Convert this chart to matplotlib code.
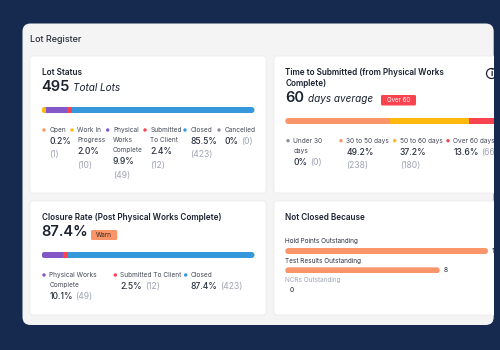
import matplotlib
matplotlib.use("Agg")
import matplotlib.pyplot as plt
from matplotlib.patches import FancyBboxPatch, Rectangle, Circle

plt.rcParams['font.family'] = ['Inter', 'DejaVu Sans']

# Data
status_labels = [["Open"], ["Work In", "Progress"], ["Physical", "Works", "Complete"],
                 ["Submitted", "To Client"], ["Closed"], ["Cancelled"]]
status_pct = [0.2, 2.0, 9.9, 2.4, 85.5, 0]
status_count = [1, 10, 49, 12, 423, 0]
total_lots = 495

time_labels = [["Under 30", "days"], ["30 to 50 days"], ["50 to 60 days"], ["Over 60 days"]]
time_pct = [0, 49.2, 37.2, 13.6]
time_count = [0, 238, 180, 66]
avg_days = 60

closure_labels = [["Physical Works", "Complete"], ["Submitted To Client"], ["Closed"]]
closure_pct = [10.1, 2.5, 87.4]
closure_count = [49, 12, 423]
closure_rate = 87.4

reason_labels = ["Hold Points Outstanding", "Test Results Outstanding", "NCRs Outstanding"]
reason_values = [10.5, 8, 0]
reason_text = ["11", "8", "0"]

# Colours
NAVY = "#162a50"
PANEL = "#f4f4f4"
SALMON = "#fa9469"
YELLOW = "#fdb90e"
PURPLE = "#8357c5"
RED = "#f9434f"
BLUE = "#3498db"
GREY = "#8e8e9a"
DARK = "#1b2230"
MUTED = "#9fa4b4"
LEGEND = "#454a57"

status_colors = [SALMON, YELLOW, PURPLE, RED, BLUE, GREY]
time_colors = [GREY, SALMON, YELLOW, RED]
closure_colors = [PURPLE, RED, BLUE]

W, H = 500, 350
fig = plt.figure(figsize=(W / 100, H / 100), dpi=100, facecolor=NAVY)

# Background axes in pixel coordinates for cards and text
bg = fig.add_axes([0, 0, 1, 1])
bg.set_xlim(0, W)
bg.set_ylim(H, 0)
bg.axis("off")


def rounded(x0, y0, x1, y1, r, **kw):
    return FancyBboxPatch((x0, y0), x1 - x0, y1 - y0, boxstyle=f"round,pad=0,rounding_size={r}",
                          transform=bg.transData, **kw)


def card(x0, y0, x1, y1):
    bg.add_patch(rounded(x0, y0, x1, y1, 3, facecolor="white", edgecolor="#ececec", linewidth=0.6))


def txt(x, y, s, size=4.7, color=LEGEND, **kw):
    return bg.text(x, y, s, fontsize=size, color=color, va="center", ha=kw.pop("ha", "left"), **kw)


def right_of(t):
    box = t.get_window_extent(fig.canvas.get_renderer())
    return bg.transData.inverted().transform((box.x1, box.y0))[0]


def stacked_bar(x0, y0, x1, y1, values, colors):
    ax = fig.add_axes([x0 / W, 1 - y1 / H, (x1 - x0) / W, (y1 - y0) / H])
    ax.set_xlim(0, 100)
    ax.set_ylim(-0.5, 0.5)
    ax.axis("off")
    clip = rounded(x0, y0, x1, y1, 3)
    left = 0
    for v, c in zip(values, colors):
        bar = ax.barh(0, v, left=left, height=1, color=c, linewidth=0)[0]
        bar.set_clip_path(clip)
        left += v


def legend_item(x, y, color, label, pct, count, inline):
    bg.add_patch(Circle((x, y), 1.7, facecolor=color, edgecolor="none"))
    for i, line in enumerate(label):
        txt(x + 5.2, y + i * 10.1, line)
    py = y + (len(label) - 1) * 10.1 + 11.5
    p = txt(x + 5.2, py, f"{pct}%", size=6.2, color="#2b3140", fontweight="medium")
    if inline:
        txt(right_of(p) + 2.5, py, f"({count})", size=6.2, color=MUTED)
    else:
        txt(x + 5.2, py + 13.5, f"({count})", size=6.2, color=MUTED)


# Panel and cards
bg.add_patch(rounded(22.5, 23.5, 493.7, 325, 8, facecolor=PANEL, edgecolor="none"))
card(30, 56, 266, 193)
card(274, 56, 510, 193)
card(30, 201, 266, 315)
card(274, 201, 510, 315)

txt(30, 40, "Lot Register", size=6.5, color="#2a2f3a", fontweight="medium")

# Lot Status
txt(41.5, 72.5, "Lot Status", size=5.9, color=DARK, fontweight="semibold")
t = txt(41.5, 87, str(total_lots), size=10.5, color=DARK, fontweight="semibold")
txt(right_of(t) + 3.5, 88, "Total Lots", size=7.2, color=DARK, fontstyle="italic")
stacked_bar(41.5, 107, 254.5, 113, status_pct, status_colors)
status_x = [44, 72, 107.7, 145, 185, 219]
status_inline = [False, False, False, False, False, True]
for i in range(len(status_labels)):
    legend_item(status_x[i], 130, status_colors[i], status_labels[i], status_pct[i], status_count[i], status_inline[i])

# Time to Submitted
txt(285.3, 72.5, "Time to Submitted (from Physical Works", size=5.9, color=DARK, fontweight="semibold")
txt(285.3, 83.5, "Complete)", size=5.9, color=DARK, fontweight="semibold")
t = txt(285.3, 98, str(avg_days), size=10.5, color=DARK, fontweight="semibold")
txt(right_of(t) + 3.5, 99, "days average", size=7.2, color=DARK, fontstyle="italic")
bg.add_patch(rounded(381, 95, 416, 105.5, 1.5, facecolor=RED, edgecolor="none"))
txt(398.5, 100.3, "Over 60", size=4.4, color="white", ha="center")
bg.add_patch(Circle((491.5, 73.5), 5, facecolor="white", edgecolor=DARK, linewidth=0.9))
txt(491.5, 73.5, "i", size=6, color=DARK, ha="center", fontweight="bold")
stacked_bar(285.3, 118, 498.3, 124, time_pct, time_colors)
time_x = [288, 341, 394.7, 448]
time_inline = [True, False, False, True]
for i in range(len(time_labels)):
    legend_item(time_x[i], 140.7, time_colors[i], time_labels[i], time_pct[i], time_count[i], time_inline[i])

# Closure Rate
txt(41.5, 217.7, "Closure Rate (Post Physical Works Complete)", size=5.9, color=DARK, fontweight="semibold")
txt(41.5, 232, f"{closure_rate}%", size=10.5, color=DARK, fontweight="semibold")
bg.add_patch(rounded(91, 230, 117.3, 240, 1.5, facecolor=SALMON, edgecolor="none"))
txt(104.2, 235.2, "Warn", size=4.6, color="#3a2a20", ha="center")
stacked_bar(41.5, 252, 254.5, 258, closure_pct, closure_colors)
closure_x = [44, 115.3, 185.7]
for i in range(len(closure_labels)):
    legend_item(closure_x[i], 275, closure_colors[i], closure_labels[i], closure_pct[i], closure_count[i], True)

# Not Closed Because
txt(285.3, 217.7, "Not Closed Because", size=5.9, color=DARK, fontweight="semibold")
x0, x1, y0, y1 = 285.3, 488, 241.4, 299.3
ax = fig.add_axes([x0 / W, 1 - y1 / H, (x1 - x0) / W, (y1 - y0) / H])
ax.set_xlim(0, max(reason_values))
ax.set_ylim(2.5, -0.5)
ax.axis("off")
for i, v in enumerate(reason_values):
    bar = ax.barh(i, v, height=0.31, color=SALMON, linewidth=0)[0]
    if v > 0:
        px = x0 + (x1 - x0) * v / max(reason_values)
        cy = y0 + (y1 - y0) * (i + 0.5) / 3
        bar.set_clip_path(rounded(x0, cy - 3, px, cy + 3, 3))
    ax.annotate(reason_text[i], (v, i), xytext=(4.3, 0), textcoords="offset points", fontsize=4.8,
                color=DARK, ha="center", va="center", annotation_clip=False)
    name_color = MUTED if v == 0 else "#2b3140"
    txt(x0, y0 + 19.3 * i, reason_labels[i], size=4.6, color=name_color)

# Panel edge cuts the right-hand cards off
top = fig.add_axes([0, 0, 1, 1], zorder=10)
top.set_xlim(0, W)
top.set_ylim(H, 0)
top.axis("off")
top.add_patch(Rectangle((493.7, 40), 7, 278, facecolor=NAVY, edgecolor="none"))

fig.savefig("out.png", dpi=100, facecolor=NAVY)
